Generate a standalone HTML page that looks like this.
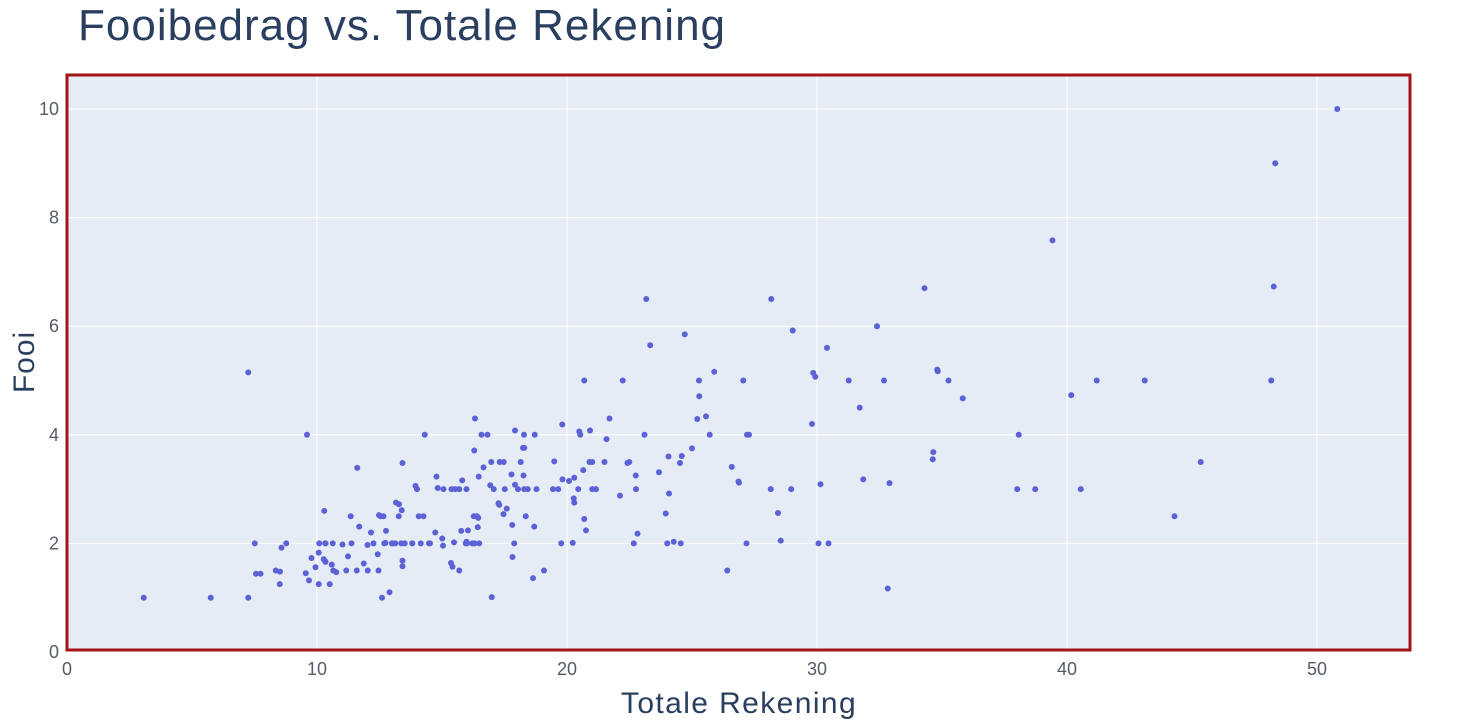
<!DOCTYPE html>
<html><head><meta charset="utf-8"><style>
html,body{margin:0;padding:0;background:#fff;}
svg{display:block;font-family:"Liberation Sans","DejaVu Sans",sans-serif;}
</style></head><body>
<svg id="s" width="1472" height="720" xmlns="http://www.w3.org/2000/svg">
<rect x="67" y="75" width="1343" height="575" fill="#e5ecf6"/>
<g id="grid" stroke="#fff" stroke-width="1"></g>
<g id="pts" fill="#5c62d6"></g>
<rect x="67" y="75" width="1343" height="575" fill="none" stroke="#a31515" stroke-width="3"/>
<g id="ticks" fill="#555c66" font-size="18"></g>
<text x="78" y="40" font-size="44" fill="#2a3f5f" letter-spacing="1">Fooibedrag vs. Totale Rekening</text>
<text x="739" y="713" font-size="30" fill="#2a3f5f" text-anchor="middle" letter-spacing="1.4">Totale Rekening</text>
<text transform="translate(34,362) rotate(-90)" font-size="30" fill="#2a3f5f" text-anchor="middle" letter-spacing="1">Fooi</text>
</svg>
<script>
var d="16.99,1.01,10.34,1.66,21.01,3.5,23.68,3.31,24.59,3.61,25.29,4.71,8.77,2.0,26.88,3.12,15.04,1.96,14.78,3.23,10.27,1.71,35.26,5.0,15.42,1.57,18.43,3.0,14.83,3.02,21.58,3.92,10.33,1.67,16.29,3.71,16.97,3.5,20.65,3.35,17.92,4.08,20.29,2.75,15.77,2.23,39.42,7.58,19.82,3.18,17.81,2.34,13.37,2.0,12.69,2.0,21.7,4.3,19.65,3.0,9.55,1.45,18.35,2.5,15.06,3.0,20.69,2.45,17.78,3.27,24.06,3.6,16.31,2.0,16.93,3.07,18.69,2.31,31.27,5.0,16.04,2.24,17.46,2.54,13.94,3.06,9.68,1.32,30.4,5.6,18.29,3.0,22.23,5.0,32.4,6.0,28.55,2.05,18.04,3.0,12.54,2.5,10.29,2.6,34.81,5.2,9.94,1.56,25.56,4.34,19.49,3.51,38.01,3.0,26.41,1.5,11.24,1.76,48.27,6.73,20.29,3.21,13.81,2.0,11.02,1.98,18.29,3.76,17.59,2.64,20.08,3.15,16.45,2.47,3.07,1.0,20.23,2.01,15.01,2.09,12.02,1.97,17.07,3.0,26.86,3.14,25.28,5.0,14.73,2.2,10.51,1.25,17.92,3.08,27.2,4.0,22.76,3.0,17.29,2.71,19.44,3.0,16.66,3.4,10.07,1.83,32.68,5.0,15.98,2.03,34.83,5.17,13.03,2.0,18.28,4.0,24.71,5.85,21.16,3.0,28.97,3.0,22.49,3.5,5.75,1.0,16.32,4.3,22.75,3.25,40.17,4.73,27.28,4.0,12.03,1.5,21.01,3.0,12.46,1.5,11.35,2.5,15.38,3.0,44.3,2.5,22.42,3.48,20.92,4.08,15.36,1.64,20.49,4.06,25.21,4.29,18.24,3.76,14.31,4.0,14.0,3.0,7.25,1.0,38.07,4.0,23.95,2.55,25.71,4.0,17.31,3.5,29.93,5.07,10.65,1.5,12.43,1.8,24.08,2.92,11.69,2.31,13.42,1.68,14.26,2.5,15.95,2.0,12.48,2.52,29.8,4.2,8.52,1.48,14.52,2.0,11.38,2.0,22.82,2.18,19.08,1.5,20.27,2.83,11.17,1.5,12.26,2.0,18.26,3.25,8.51,1.25,10.33,2.0,14.15,2.0,16.0,2.0,13.16,2.75,17.47,3.5,34.3,6.7,41.19,5.0,27.05,5.0,16.43,2.3,8.35,1.5,18.64,1.36,11.87,1.63,9.78,1.73,7.51,2.0,14.07,2.5,13.13,2.0,17.26,2.74,24.55,2.0,19.77,2.0,29.85,5.14,48.17,5.0,25.0,3.75,13.39,2.61,16.49,2.0,21.5,3.5,12.66,2.5,16.21,2.0,13.81,2.0,17.51,3.0,24.52,3.48,20.76,2.24,31.71,4.5,10.59,1.61,10.63,2.0,50.81,10.0,15.81,3.16,7.25,5.15,31.85,3.18,16.82,4.0,32.9,3.11,17.89,2.0,14.48,2.0,9.6,4.0,34.63,3.55,34.65,3.68,23.33,5.65,45.35,3.5,23.17,6.5,40.55,3.0,20.69,5.0,20.9,3.5,30.46,2.0,18.15,3.5,23.1,4.0,15.69,1.5,19.81,4.19,28.44,2.56,15.48,2.02,16.58,4.0,7.56,1.44,10.34,2.0,43.11,5.0,13.0,2.0,13.51,2.0,18.71,4.0,12.74,2.01,13.0,2.0,16.4,2.5,20.53,4.0,16.47,3.23,26.59,3.41,38.73,3.0,24.27,2.03,12.76,2.23,30.06,2.0,25.89,5.16,48.33,9.0,13.27,2.5,28.17,6.5,12.9,1.1,28.15,3.0,11.59,1.5,7.74,1.44,30.14,3.09,12.16,2.2,13.42,3.48,8.58,1.92,15.98,3.0,13.42,1.58,16.27,2.5,10.09,2.0,20.45,3.0,13.28,2.72,22.12,2.88,24.01,2.0,15.69,3.0,11.61,3.39,10.77,1.47,15.53,3.0,10.07,1.25,12.6,1.0,32.83,1.17,35.83,4.67,29.03,5.92,27.18,2.0,22.67,2.0,17.82,1.75,18.78,3.0".split(",").map(Number);
var NS="http://www.w3.org/2000/svg";
function X(v){return 67+25*v;} function Y(v){return 652-54.3*v;}
function el(p,t,a,txt){var e=document.createElementNS(NS,t);for(var k in a)e.setAttribute(k,a[k]);if(txt!=null)e.textContent=txt;document.getElementById(p).appendChild(e);}
for(var i=1;i<=5;i++){el("grid","line",{x1:X(i*10),x2:X(i*10),y1:75,y2:650});el("grid","line",{x1:67,x2:1410,y1:Y(i*2),y2:Y(i*2)});}
for(var i=0;i<d.length;i+=2)el("pts","circle",{cx:X(d[i]),cy:Y(d[i+1]),r:3});
for(var i=0;i<=5;i++){el("ticks","text",{x:X(i*10),y:675,"text-anchor":"middle"},String(i*10));el("ticks","text",{x:59,y:Y(i*2)+6,"text-anchor":"end"},String(i*2));}
</script>
</body></html>
